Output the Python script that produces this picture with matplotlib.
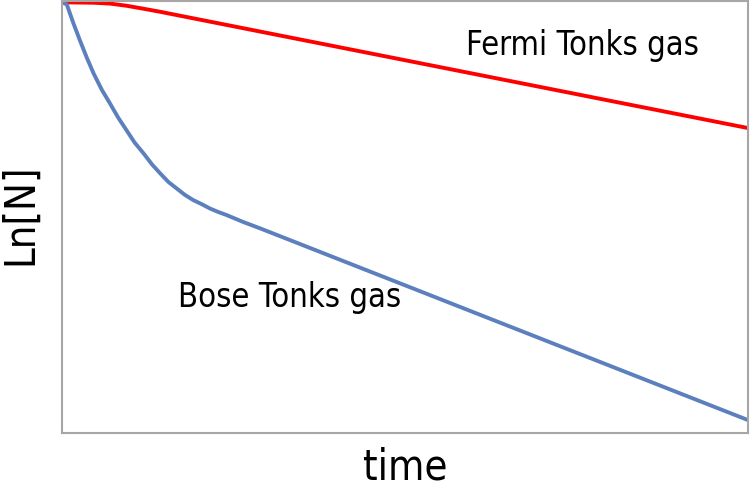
import matplotlib
matplotlib.use("Agg")
import matplotlib.pyplot as plt

# values (arbitrary units)
bose_t = [0, 0.07, 0.16, 0.26, 0.36, 0.46, 0.58, 0.70, 0.82, 0.94, 1.06, 1.19,
          1.31, 1.43, 1.55, 1.67, 1.79, 1.91, 2.04, 2.16, 2.28, 2.40, 2.64, 2.89, 10.0]
bose_lnN = [0, -0.05, -0.46, -0.88, -1.28, -1.65, -2.03, -2.35, -2.68, -2.97, -3.26, -3.51,
            -3.76, -3.97, -4.17, -4.32, -4.47, -4.59, -4.69, -4.79, -4.87, -4.94, -5.10, -5.25, -9.70]

fermi_t = [0, 0.46, 0.70, 0.94, 1.19, 1.43, 2.89, 10.0]
fermi_lnN = [0, -0.01, -0.03, -0.08, -0.15, -0.22, -0.68, -2.92]

fig = plt.figure(figsize=(7.5, 4.9), dpi=100)
ax = fig.add_axes([62/750, 1 - 433/490, 686/750, 432/490])

ax.plot(fermi_t, fermi_lnN, color='#ff0000', lw=2.8, solid_capstyle='butt', solid_joinstyle='round')
ax.plot(bose_t, bose_lnN, color='#5b80bd', lw=2.8, solid_capstyle='butt', solid_joinstyle='round')

ax.set_xlim(0, 10)
ax.set_ylim(-10.0, 0.03)
ax.set_xticks([])
ax.set_yticks([])
for s in ax.spines.values():
    s.set_color('#a6a6a6')
    s.set_linewidth(1.5)

font = dict(family='DejaVu Sans', stretch='condensed')
ax.text(5.89, -1.23, 'Fermi Tonks gas', fontsize=23.5, ha='left', va='baseline', **font)
ax.text(1.69, -7.08, 'Bose Tonks gas', fontsize=23.5, ha='left', va='baseline', **font)
ax.set_xlabel('time', fontsize=30, va='bottom', **font)
ax.xaxis.set_label_coords(0.5, -0.1296)
ax.set_ylabel('Ln[N]', fontsize=30, va='center', **font)
ax.yaxis.set_label_coords(-0.0612, 0.507)

fig.savefig('out.png', dpi=100)
